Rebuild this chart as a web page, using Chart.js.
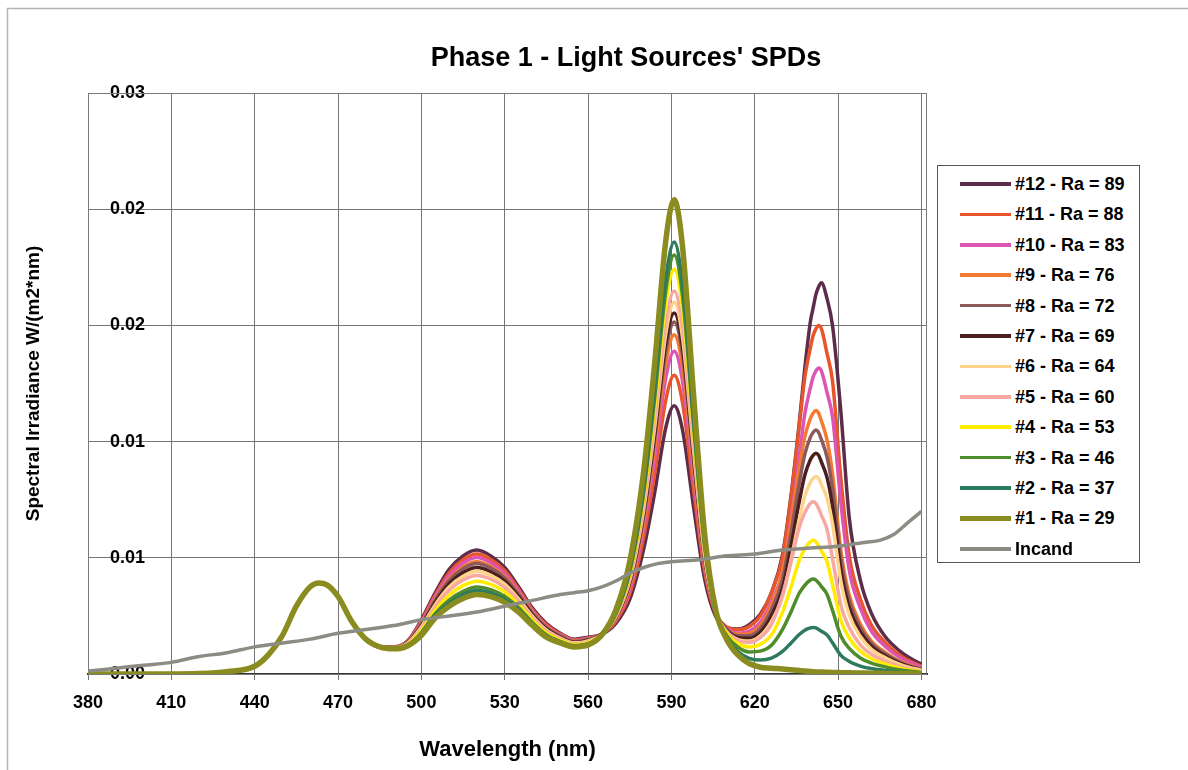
<!DOCTYPE html>
<html>
<head>
<meta charset="utf-8">
<script src="https://cdn.jsdelivr.net/npm/chart.js@4.4.1/dist/chart.umd.min.js"></script>
<style>
html,body{margin:0;padding:0;background:#fff;}
#wrap{position:relative;width:1188px;height:770px;overflow:hidden;background:#fff;}
#c{position:absolute;left:0;top:0;}
#legend{position:absolute;left:937px;top:165px;width:203px;height:398px;border:1px solid #555;box-sizing:border-box;background:#fff;font-family:"Liberation Sans",Arial,sans-serif;font-weight:bold;font-size:18px;color:#000;}
.row{position:absolute;left:0;width:100%;height:30px;line-height:30px;white-space:nowrap;}
.sw{position:absolute;left:22px;width:51px;top:50%;}
.tx{position:absolute;left:77px;top:0;}
</style>
</head>
<body>
<div id="wrap">
<canvas id="c" width="1188" height="770"></canvas>
<div id="legend"></div>
</div>
<script>
// ---------- data ----------
const wavelengths = [380,400,420,430,440,445,450,455,460,463,466,470,475,480,485,
  490,495,500,505,510,515,520,525,530,535,540,545,550,555,560,
  565,570,575,580,584,588,591,594,598,602,606,610,614,618,622,626,630,633,636,638,
  640,641,642,643,644,646,648,651,654,658,662,667,672,676,680];

const ra89 = [0,0,0.00003,0.00012,0.0004,0.001,0.002,0.0035,0.0045,0.0047,0.0046,0.004,0.0027,0.0018,0.0014,
  0.0014,0.0017,0.0028,0.0042,0.0054,0.0061,0.0064,0.0061,0.0055,0.0045,0.0034,0.0026,0.0021,0.0018,0.0019,
  0.00205,0.00261,0.00385,0.00644,0.00938,0.01274,0.01385,0.0126,0.0086,0.00487,0.00295,0.00239,0.00232,0.00254,0.00308,
  0.00419,0.00615,0.00914,0.01293,0.01576,0.01818,0.01889,0.01959,0.02,0.0202,0.01939,0.01798,0.01353,0.00808,0.00485,
  0.00313,0.00192,0.00121,0.00081,0.00051];
const ra88 = [0,0,0.00003,0.00012,0.0004,0.001,0.002,0.0035,0.0045,0.0047,0.0046,0.004,0.0027,0.0018,0.0014,
  0.00139,0.00168,0.00273,0.00408,0.00523,0.0059,0.00619,0.00591,0.00534,0.00438,0.00332,0.00254,0.00206,0.00176,0.00186,
  0.00207,0.00273,0.00414,0.00705,0.01038,0.01416,0.01542,0.01401,0.00949,0.00527,0.00312,0.00243,0.00228,0.00245,0.003,
  0.0042,0.00603,0.00905,0.01278,0.0153,0.01683,0.01746,0.01782,0.018,0.01782,0.01656,0.01512,0.01008,0.00612,0.00387,
  0.00252,0.00162,0.00099,0.00065,0.0004];
const ra83 = [0,0,0.00003,0.00012,0.0004,0.001,0.002,0.0035,0.0045,0.0047,0.0046,0.004,0.0027,0.0018,0.0014,
  0.00138,0.00166,0.00266,0.00398,0.00508,0.00573,0.00601,0.00574,0.00519,0.00428,0.00325,0.00248,0.00202,0.00173,0.00183,
  0.00208,0.00283,0.00438,0.00752,0.01116,0.0153,0.01666,0.01512,0.01016,0.00554,0.00316,0.00236,0.00212,0.00222,0.00267,
  0.00371,0.00529,0.00796,0.01122,0.01343,0.01477,0.01533,0.01564,0.0158,0.01564,0.01454,0.01327,0.00885,0.00537,0.0034,
  0.00221,0.00142,0.00087,0.00057,0.00035];
const ra76 = [0,0,0.00003,0.00012,0.0004,0.001,0.002,0.0035,0.0045,0.0047,0.0046,0.004,0.0027,0.0018,0.0014,
  0.00137,0.00164,0.00259,0.00386,0.00491,0.00553,0.0058,0.00555,0.00503,0.00416,0.00317,0.00242,0.00197,0.0017,0.0018,
  0.00207,0.00288,0.00454,0.00784,0.01171,0.01606,0.01752,0.01587,0.01061,0.00572,0.00318,0.00233,0.00205,0.0021,0.00251,
  0.00356,0.00525,0.00781,0.01061,0.01224,0.01319,0.01346,0.0136,0.01346,0.01306,0.0121,0.01034,0.00639,0.00408,0.00258,
  0.0017,0.00112,0.00068,0.00044,0.00027];
const ra72 = [0,0,0.00003,0.00012,0.0004,0.001,0.002,0.0035,0.0045,0.0047,0.0046,0.004,0.0027,0.0018,0.0014,
  0.00137,0.00163,0.00256,0.00381,0.00483,0.00544,0.00571,0.00547,0.00496,0.00411,0.00313,0.00239,0.00195,0.00168,0.00178,
  0.00208,0.00293,0.00467,0.00809,0.01213,0.01668,0.01818,0.01648,0.01099,0.00588,0.00321,0.0023,0.00197,0.00198,0.00236,
  0.00331,0.00487,0.00724,0.00983,0.01134,0.01222,0.01247,0.0126,0.01247,0.0121,0.01121,0.00958,0.00592,0.00378,0.00239,
  0.00158,0.00103,0.00063,0.0004,0.00025];
const ra69 = [0,0,0.00003,0.00012,0.0004,0.001,0.002,0.0035,0.0045,0.0047,0.0046,0.004,0.0027,0.0018,0.0014,
  0.00136,0.0016,0.00249,0.00369,0.00466,0.00524,0.0055,0.00528,0.0048,0.00399,0.00305,0.00233,0.00191,0.00164,0.00174,
  0.00206,0.00294,0.00474,0.00826,0.0124,0.0171,0.01864,0.01688,0.01122,0.00596,0.00319,0.00224,0.00188,0.00184,0.00216,
  0.00301,0.00442,0.00655,0.00889,0.01026,0.01106,0.01129,0.0114,0.01129,0.01094,0.01015,0.00866,0.00536,0.00342,0.00217,
  0.00143,0.00093,0.00057,0.00036,0.00023];
const ra64 = [0,0,0.00003,0.00012,0.0004,0.001,0.002,0.0035,0.0045,0.0047,0.0046,0.004,0.0027,0.0018,0.0014,
  0.00135,0.00158,0.00242,0.00358,0.00449,0.00504,0.0053,0.00509,0.00464,0.00388,0.00297,0.00226,0.00186,0.00161,0.00171,
  0.00205,0.00297,0.00484,0.00846,0.01276,0.0176,0.0192,0.01738,0.01153,0.00607,0.00319,0.00218,0.00178,0.0017,0.00197,
  0.00271,0.00397,0.00586,0.00796,0.00918,0.00989,0.0101,0.0102,0.0101,0.00979,0.00908,0.00775,0.00479,0.00306,0.00194,
  0.00128,0.00084,0.00051,0.00033,0.0002];
const ra60 = [0,0,0.00003,0.00012,0.0004,0.001,0.002,0.0035,0.0045,0.0047,0.0046,0.004,0.0027,0.0018,0.0014,
  0.00134,0.00156,0.00234,0.00346,0.00432,0.00485,0.00509,0.0049,0.00447,0.00376,0.00289,0.0022,0.00182,0.00157,0.00167,
  0.00203,0.00299,0.00493,0.00868,0.01311,0.01812,0.01977,0.01787,0.01182,0.00618,0.00322,0.00217,0.00173,0.00164,0.00188,
  0.00256,0.0041,0.00575,0.00757,0.00832,0.00881,0.0089,0.00881,0.00854,0.00819,0.00748,0.00596,0.00356,0.0024,0.00151,
  0.00102,0.00067,0.0004,0.00025,0.00015];
const ra53 = [0,0,0.00003,0.00012,0.0004,0.001,0.002,0.0035,0.0045,0.0047,0.0046,0.004,0.0027,0.0018,0.0014,
  0.00133,0.00153,0.00224,0.00329,0.00407,0.00456,0.00479,0.00463,0.00424,0.00359,0.00277,0.00211,0.00175,0.00152,0.00162,
  0.00203,0.00306,0.00513,0.00909,0.01382,0.01914,0.0209,0.01888,0.01245,0.00642,0.00323,0.00208,0.00157,0.00139,0.00153,
  0.00202,0.0032,0.00447,0.00587,0.00645,0.00683,0.0069,0.00683,0.00662,0.00635,0.0058,0.00462,0.00276,0.00186,0.00117,
  0.00079,0.00052,0.00031,0.00019,0.00012];
const ra46 = [0,0,0.00003,0.00012,0.0004,0.001,0.002,0.0035,0.0045,0.0047,0.0046,0.004,0.0027,0.0018,0.0014,
  0.00132,0.00149,0.00214,0.00312,0.00382,0.00427,0.00449,0.00436,0.00401,0.00342,0.00265,0.00202,0.00169,0.00147,0.00157,
  0.002,0.00309,0.00526,0.00935,0.01427,0.01981,0.02163,0.01953,0.01282,0.00655,0.00321,0.00197,0.00138,0.00114,0.00118,
  0.00148,0.0023,0.00319,0.00417,0.00458,0.00485,0.0049,0.00485,0.0047,0.00451,0.00412,0.00328,0.00196,0.00132,0.00083,
  0.00056,0.00037,0.00022,0.00014,0.00008];
const ra37 = [0,0,0.00003,0.00012,0.0004,0.001,0.002,0.0035,0.0045,0.0047,0.0046,0.004,0.0027,0.0018,0.0014,
  0.00131,0.00147,0.00207,0.00302,0.00367,0.0041,0.00431,0.00419,0.00386,0.00332,0.00258,0.00196,0.00165,0.00144,0.00154,
  0.00201,0.00314,0.0054,0.00959,0.01468,0.02043,0.02231,0.0201,0.01312,0.00666,0.00315,0.00182,0.00115,0.00081,0.00072,
  0.00082,0.00117,0.00159,0.00204,0.00226,0.00238,0.0024,0.00238,0.0023,0.00221,0.00202,0.00161,0.00096,0.00065,0.00041,
  0.00028,0.00018,0.00011,0.00007,0.00004];
const ra29 = [0,0,0.00003,0.00012,0.0004,0.001,0.002,0.0035,0.0045,0.0047,0.0046,0.004,0.0027,0.0018,0.0014,
  0.0013,0.00145,0.002,0.0029,0.0035,0.0039,0.0041,0.004,0.0037,0.0032,0.0025,0.0019,0.0016,0.0014,0.0015,
  0.00203,0.00331,0.00581,0.01045,0.01607,0.02241,0.02449,0.02207,0.01437,0.00716,0.00328,0.00176,0.00097,0.00054,0.00035,
  0.0003,0.00026,0.00022,0.00018,0.00015,0.00013,0.00012,0.00011,0.0001,0.0001,0.00009,0.00008,0.00007,0.00006,0.00005,
  0.00004,0.00003,0.00002,0.00002,0.00001];

const incandWavelengths = [380,390,400,410,420,430,440,450,460,470,480,490,500,510,520,530,540,550,555,560,
  565,570,575,580,585,590,600,610,620,630,640,650,655,660,665,670,675,680];
const incandValues = [0.00015,0.0003,0.00045,0.0006,0.0009,0.0011,0.0014,0.0016,0.0018,0.0021,0.0023,0.0025,0.0028,0.003,0.0032,0.0035,0.0038,0.0041,0.0042,0.0043,
  0.0045,0.0048,0.0052,0.0055,0.0057,0.0058,0.0059,0.0061,0.0062,0.0064,0.0065,0.0066,0.0067,0.0068,0.0069,0.0072,0.0078,0.0084];

const seriesLabels = ['#12 - Ra = 89','#11 - Ra = 88','#10 - Ra = 83','#9 - Ra = 76','#8 - Ra = 72','#7 - Ra = 69',
  '#6 - Ra = 64','#5 - Ra = 60','#4 - Ra = 53','#3 - Ra = 46','#2 - Ra = 37','#1 - Ra = 29','Incand'];
const xTicks = [380,410,440,470,500,530,560,590,620,650,680];
const yTicks = [0,0.006,0.012,0.018,0.024,0.03];

// ---------- styles ----------
const seriesColors = ['#5c2d4a','#e8552a','#dc55b4','#f47a32','#8c5a5a','#4b1f1f','#ffd38a','#f7a8a0','#ffec00','#4f8c2a','#2e7a5c','#8b8c1f','#8c8c84'];
const seriesWidths = [3.5,3.5,3.5,3.5,3.5,3.5,3.5,3.5,3.5,3.5,3.5,5.5,3.5];
const FONT = '"Liberation Sans", Arial, sans-serif';

const seriesValues = [ra89,ra88,ra83,ra76,ra72,ra69,ra64,ra60,ra53,ra46,ra37,ra29];
const datasets = seriesValues.map((vals,i)=>({
  label: seriesLabels[i],
  data: vals.map((v,j)=>({x: wavelengths[j], y: v})),
  borderColor: seriesColors[i], backgroundColor: seriesColors[i],
  borderWidth: seriesWidths[i], pointRadius: 0, fill: false,
  cubicInterpolationMode: 'monotone', order: 13 - i
}));
datasets.push({
  label: seriesLabels[12],
  data: incandValues.map((v,j)=>({x: incandWavelengths[j], y: v})),
  borderColor: seriesColors[12], backgroundColor: seriesColors[12],
  borderWidth: seriesWidths[12], pointRadius: 0, fill: false,
  cubicInterpolationMode: 'monotone', order: 0
});

// ---------- plugins ----------
const frame = {
  id: 'frame',
  beforeDraw(chart){
    const c = chart.ctx;
    c.save(); c.fillStyle='#fff'; c.fillRect(0,0,chart.width,chart.height);
    c.strokeStyle='#b4b4b4'; c.lineWidth=1.5; c.strokeRect(7.5,8.5,1200,800);
    c.restore();
  },
  afterLayout(chart){
    const t = chart.titleBlock;
    if (t) { t.left = 64; t.right = 1188; t.width = 1124; }
  },
  beforeDatasetsDraw(chart){
    const a = chart.chartArea, c = chart.ctx;
    c.save(); c.strokeStyle='#7a7a7a'; c.lineWidth=1;
    c.strokeRect(a.left+0.5, a.top+0.5, a.right-a.left-1, a.bottom-a.top);
    c.restore();
  }
};

new Chart(document.getElementById('c'), {
  type: 'line',
  data: { datasets },
  plugins: [frame],
  options: {
    responsive: false, animation: false, devicePixelRatio: 1,
    layout: { padding: { left: 0, right: 261, top: 0, bottom: 0 } },
    plugins: {
      legend: { display: false },
      tooltip: { enabled: false },
      title: { display: true, text: "Phase 1 - Light Sources' SPDs", color: '#000',
        font: { family: FONT, size: 27, weight: 'bold' }, padding: { top: 42, bottom: 18.6 } }
    },
    scales: {
      x: {
        type: 'linear', min: 380, max: 682,
        afterBuildTicks: (s) => { s.ticks = xTicks.map(v => ({ value: v })); },
        afterFit: (s) => { s.height = 96; },
        ticks: { color: '#000', font: { family: FONT, size: 18, weight: 'bold' }, padding: 12, maxRotation: 0, autoSkip: false },
        grid: { color: '#757575', lineWidth: 1, drawTicks: true, tickLength: 6, tickColor: '#757575' },
        border: { display: true, color: '#333', width: 2 },
        title: { display: true, text: 'Wavelength (nm)', color: '#000', font: { family: FONT, size: 22, weight: 'bold' }, padding: { top: 0, bottom: 7 } }
      },
      y: {
        type: 'linear', min: 0, max: 0.03,
        afterBuildTicks: (s) => { s.ticks = yTicks.map(v => ({ value: v })); },
        afterFit: (s) => { s.width = 88; },
        ticks: { mirror: true, padding: 22, color: '#000', font: { family: FONT, size: 18, weight: 'bold' },
          callback: (v) => Number(v).toFixed(2) },
        grid: { color: '#757575', lineWidth: 1, drawTicks: false },
        border: { display: true, color: '#757575', width: 1 },
        title: { display: true, text: 'Spectral Irradiance W/(m2*nm)', color: '#000', font: { family: FONT, size: 19, weight: 'bold' }, padding: { top: 22, bottom: 0 } }
      }
    }
  }
});

// ---------- legend ----------
const lg = document.getElementById('legend');
seriesLabels.forEach((lab, i) => {
  const row = document.createElement('div');
  row.className = 'row';
  row.style.top = (18 + i * 30.4 - 15) + 'px';
  const sw = document.createElement('div');
  sw.className = 'sw';
  sw.style.height = seriesWidths[i] + 'px';
  sw.style.marginTop = (-seriesWidths[i] / 2) + 'px';
  sw.style.background = seriesColors[i];
  const tx = document.createElement('div');
  tx.className = 'tx';
  tx.textContent = lab;
  row.appendChild(sw); row.appendChild(tx);
  lg.appendChild(row);
});
</script>
</body>
</html>
